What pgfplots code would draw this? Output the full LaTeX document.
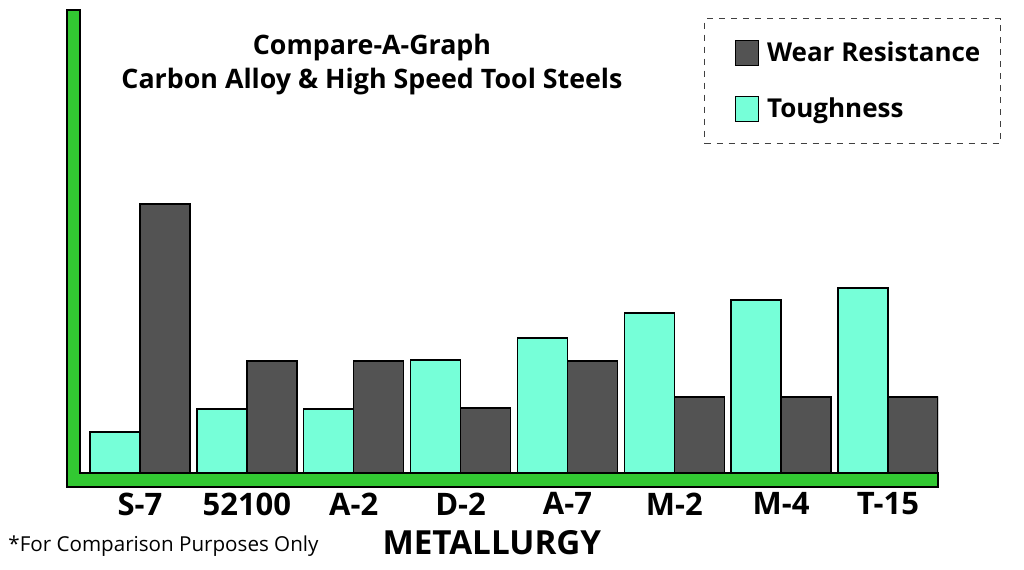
\documentclass[border=0pt]{standalone}
\usepackage{pgfplots}
\pgfplotsset{compat=1.18}
\usepackage{fontspec}
\setmainfont{Open Sans}
\definecolor{tough}{RGB}{118,255,216}
\definecolor{wear}{RGB}{83,83,83}
\definecolor{axgreen}{RGB}{50,200,50}
\begin{document}
\begin{tikzpicture}
\useasboundingbox (0,0) rectangle (512pt,284.5pt);
\begin{axis}[
  at={(40pt,48pt)}, anchor=south west,
  scale only axis, width=429pt, height=231.5pt,
  xmin=-0.5615, xmax=7.468, ymin=0, ymax=463,
  axis lines=left, axis line style={draw=none},
  ytick=\empty, xtick=data,
  xticklabels={S-7,52100,A-2,D-2,A-7,M-2,M-4,T-15},
  major tick length=0pt,
  xticklabel style={font=\bfseries\fontsize{15.5}{18}\selectfont, yshift=-6.3pt},
  ybar=0pt, bar width=25pt,
  title={Compare-A-Graph\\Carbon Alloy \& High Speed Tool Steels},
  title style={align=center, at={(rel axis cs:0.3403,0.8563)}, anchor=center, yshift=0pt,
    font=\bfseries\fontsize{13.4}{17}\selectfont},
  xlabel={METALLURGY},
  xlabel style={at={(rel axis cs:0.480,-0.1512)}, anchor=center,
    font=\bfseries\fontsize{16.6}{20}\selectfont},
  legend style={at={(rel axis cs:1.0734,0.9827)}, anchor=north east,
    draw=black!75, dashed, line width=0.6pt,
    font=\bfseries\fontsize{13}{16}\selectfont,
    row sep=12.5pt, inner xsep=8pt, inner ysep=9.5pt},
  legend cell align=left,
  reverse legend,
  legend image code/.code={\path (-7pt,0pt) (13.5pt,0pt);\draw[#1,solid,line width=0.6pt] (0pt,-6.25pt) rectangle (11.5pt,6.25pt);},
]
\addplot[fill=tough, draw=black, line width=0.7pt, bar shift=-12.5pt] coordinates {
  (0,41) (1,64) (2,64) (3,113) (4,135) (5,160) (6,173) (7,185)};
\addlegendentry{Toughness}
\addplot[fill=wear, draw=black, line width=0.7pt, bar shift=12.5pt] coordinates {
  (0,269) (1,112) (2,112) (3,65) (4,112) (5,76) (6,76) (7,76)};
\addlegendentry{Wear Resistance}
\end{axis}
\draw[fill=axgreen, draw=black, line width=0.75pt]
  (33.5pt,41pt) -- (469pt,41pt) -- (469pt,48pt) -- (40pt,48pt) -- (40pt,279.5pt) -- (33.5pt,279.5pt) -- cycle;
\node[anchor=west, inner sep=0pt, font=\fontsize{10.3}{12}\selectfont] at (4pt,11.5pt) {*For Comparison Purposes Only};
\end{tikzpicture}
\end{document}
